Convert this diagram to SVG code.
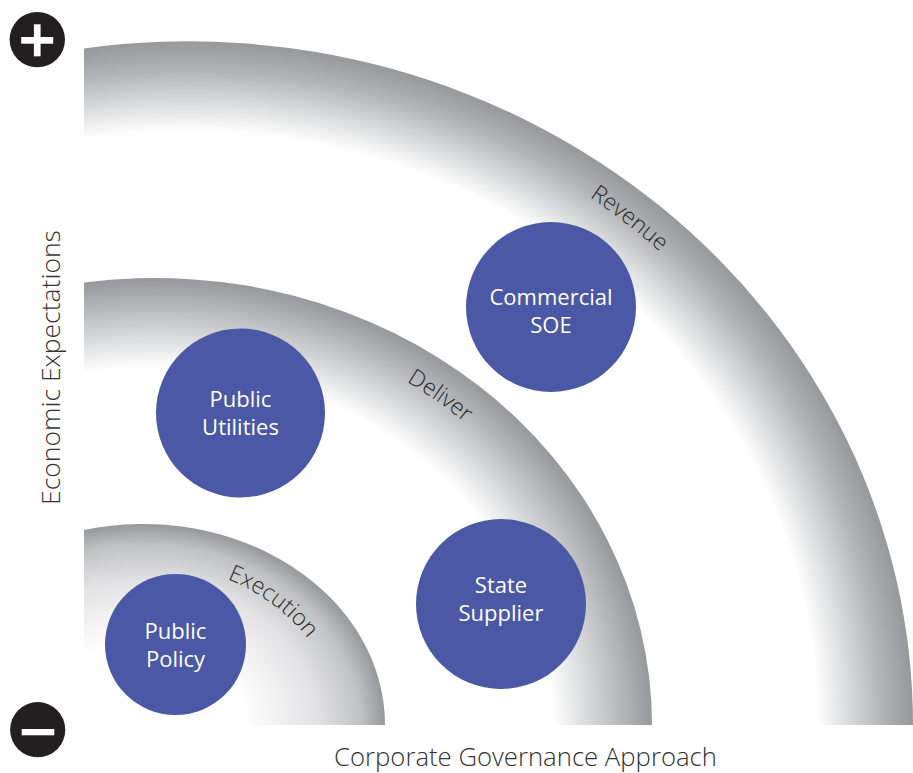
<svg xmlns="http://www.w3.org/2000/svg" xmlns:xlink="http://www.w3.org/1999/xlink" width="913" height="773" viewBox="0 0 913 773">
  <style>
    .node { fill: #4a58a6; }
    .nodetext { font-family: "Open Sans", "Noto Sans", "Liberation Sans", sans-serif; font-size: 22px; fill: #ffffff; text-anchor: middle; }
    .arclabel { font-family: "Open Sans", "Noto Sans", "Liberation Sans", sans-serif; font-size: 23px; font-weight: 300; fill: #2b2b2b; }
    .axis { font-family: "Open Sans", "Noto Sans", "Liberation Sans", sans-serif; font-size: 26.5px; font-weight: 300; fill: #333333; text-anchor: middle; }
    .icon { fill: #231f20; }
    .iconbar { fill: #ffffff; }
  </style>
  <defs>
    <radialGradient id="gOuter" gradientUnits="userSpaceOnUse" cx="188" cy="725" r="684" gradientTransform="translate(188 725) scale(1.06 1) translate(-188 -725)">
      <stop offset="0" stop-color="#ffffff"/>
      <stop offset="0.868" stop-color="#ffffff"/>
      <stop offset="0.92" stop-color="#d2d3d5"/>
      <stop offset="0.96" stop-color="#b0b1b4"/>
      <stop offset="1" stop-color="#97989c"/>
    </radialGradient>
    <radialGradient id="gMiddle" gradientUnits="userSpaceOnUse" cx="155" cy="725" r="447" gradientTransform="translate(155 725) scale(1.112 1) translate(-155 -725)">
      <stop offset="0" stop-color="#ffffff"/>
      <stop offset="0.80" stop-color="#ffffff"/>
      <stop offset="0.88" stop-color="#d4d5d7"/>
      <stop offset="0.95" stop-color="#b0b1b4"/>
      <stop offset="1" stop-color="#97989c"/>
    </radialGradient>
    <radialGradient id="gInner" gradientUnits="userSpaceOnUse" cx="143" cy="725" r="201" gradientTransform="translate(143 725) scale(1.204 1) translate(-143 -725)">
      <stop offset="0" stop-color="#ffffff"/>
      <stop offset="0.42" stop-color="#ffffff"/>
      <stop offset="0.72" stop-color="#e2e2e4"/>
      <stop offset="0.9" stop-color="#c0c1c3"/>
      <stop offset="1" stop-color="#97989c"/>
    </radialGradient>
    <path id="pRevenue" d="M527.1,159.4 A688.75,649.8 0 0 1 711.7,303.0"/>
    <path id="pDeliver" d="M370.3,362.3 A457.2,411.2 0 0 1 495.3,450.4"/>
    <path id="pExecution" d="M209.6,573.0 A194.8,161.8 0 0 1 318.1,654.1"/>
  </defs>

  <rect x="0" y="0" width="913" height="773" fill="#ffffff"/>

  <g id="bands">
    <path id="band-outer" d="M84,725 L84,48.4 A725,684 0 0 1 913,725 Z" fill="url(#gOuter)"/>
    <path id="band-middle" d="M84,725 L84,282.6 A497,447 0 0 1 652,725 Z" fill="url(#gMiddle)"/>
    <path id="band-inner" d="M84,725 L84,530 A242,201 0 0 1 385,725 Z" fill="url(#gInner)"/>
  </g>

  <g id="band-labels">
    <text class="arclabel"><textPath xlink:href="#pRevenue" href="#pRevenue" startOffset="50%" text-anchor="middle">Revenue</textPath></text>
    <text class="arclabel"><textPath xlink:href="#pDeliver" href="#pDeliver" startOffset="50%" text-anchor="middle">Deliver</textPath></text>
    <text class="arclabel"><textPath xlink:href="#pExecution" href="#pExecution" startOffset="50%" text-anchor="middle">Execution</textPath></text>
  </g>

  <g id="connectors"/>

  <g id="node-commercial-soe">
    <circle class="node" cx="551" cy="307" r="85"/>
    <text class="nodetext" x="551" y="305">Commercial</text>
    <text class="nodetext" x="551" y="333">SOE</text>
  </g>
  <g id="node-public-utilities">
    <circle class="node" cx="240.5" cy="413" r="84.5"/>
    <text class="nodetext" x="240.5" y="407">Public</text>
    <text class="nodetext" x="240.5" y="435">Utilities</text>
  </g>
  <g id="node-public-policy">
    <circle class="node" cx="175.5" cy="644.5" r="70.5"/>
    <text class="nodetext" x="175.5" y="639">Public</text>
    <text class="nodetext" x="175.5" y="667">Policy</text>
  </g>
  <g id="node-state-supplier">
    <circle class="node" cx="501" cy="604" r="85"/>
    <text class="nodetext" x="501" y="593">State</text>
    <text class="nodetext" x="501" y="621">Supplier</text>
  </g>

  <g id="icon-plus">
    <circle class="icon" cx="37.3" cy="39.6" r="27.7"/>
    <rect class="iconbar" x="21.2" y="37" width="32" height="6.7"/>
    <rect class="iconbar" x="33.9" y="24.3" width="6.7" height="32"/>
  </g>
  <g id="icon-minus">
    <circle class="icon" cx="37.7" cy="729.7" r="27.6"/>
    <rect class="iconbar" x="21.7" y="729" width="32.6" height="6.3"/>
  </g>

  <g id="axes">
    <text class="axis" transform="translate(60 367.5) rotate(-90)">Economic Expectations</text>
    <text class="axis" x="525.5" y="766" style="font-size:25.7px">Corporate Governance Approach</text>
  </g>
</svg>
